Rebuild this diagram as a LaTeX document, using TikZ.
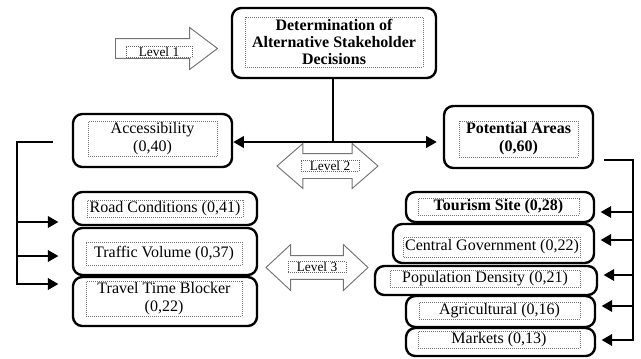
\documentclass[tikz,border=0pt]{standalone}
\usepackage{fontspec}
\setmainfont{Liberation Serif}
\usetikzlibrary{arrows.meta, shapes.arrows, positioning}
\tikzset{> = { Triangle[length = 8pt, width = 8.5pt] }}

\begin{document}
\begin{tikzpicture}[x = 0.75pt, y = -0.75pt,
	box/.style = { draw, line width = 1.8pt, rounded corners = 7pt, inner sep = 0pt },
	frame/.style = { draw = black!55, densely dotted, line width = 0.5pt, inner sep = 1pt, align = center, font = \fontsize{12}{13.5}\selectfont },
	levelarrow/.style = { draw = black!55, fill = white, line width = 0.7pt, inner xsep = 0pt },
	levellabel/.style = { draw = black!60, densely dotted, fill = white, line width = 0.5pt, inner sep = 0.5pt, font = \fontsize{10}{11}\selectfont },
	link/.style = { line width = 2.2pt }]

		\useasboundingbox (0,0) rectangle (641,358);

		% level arrows
		\node [levelarrow, single arrow, anchor = tail, inner ysep = 7.1pt, minimum height = 76.5pt, single arrow head extend = 8.25pt, single arrow tip angle = 74] (lev1) at (115,48.5) {};
		\node [levelarrow, double arrow, inner ysep = 9pt, minimum height = 75.75pt, double arrow head extend = 7.5pt, double arrow tip angle = 82] (lev2) at (327.5,166) {};
		\node [levelarrow, double arrow, inner ysep = 8.6pt, minimum height = 76.5pt, double arrow head extend = 8.25pt, double arrow tip angle = 86] (lev3) at (317,267.5) {};
		\node [levellabel, minimum width = 49.5pt] (lev1t) at (159,51.5) {Level 1};
		\node [levellabel, minimum width = 43.5pt] (lev2t) at (330,165.5) {Level 2};
		\node [levellabel, minimum width = 43.5pt] (lev3t) at (317,267) {Level 3};

		% goal
		\node [box, minimum width = 153pt, minimum height = 52.5pt] (top) at (334,43) {};
		\node [frame, font = \fontsize{12}{13}\selectfont\bfseries, minimum width = 133.5pt, minimum height = 37.5pt] (topt) at (334,42) {Determination of\\Alternative Stakeholder\\Decisions};

		% criteria
		\node [box, minimum width = 119.25pt, minimum height = 39.75pt] (acc) at (152.5,140.5) {};
		\node [frame, minimum width = 96.75pt, minimum height = 25.5pt] (acct) at (152.5,139) {Accessibility\\(0,40)};
		\node [box, minimum width = 111.75pt, minimum height = 46.5pt] (pot) at (518.5,137) {};
		\node [frame, font = \fontsize{12}{13.5}\selectfont\bfseries, minimum width = 89.25pt, minimum height = 27pt] (pott) at (518.5,139) {Potential Areas\\(0,60)};

		% sub-criteria, accessibility
		\node [box, minimum width = 138pt, minimum height = 24.75pt] (road) at (165,208.5) {};
		\node [frame, minimum width = 117pt, minimum height = 12.75pt] (roadt) at (165,208.5) {Road Conditions (0,41)};
		\node [box, minimum width = 138pt, minimum height = 35.25pt] (traffic) at (165,251.5) {};
		\node [frame, minimum width = 117pt, minimum height = 17.25pt] (traffict) at (164,253.5) {Traffic Volume (0,37)};
		\node [box, minimum width = 138pt, minimum height = 36.75pt] (travel) at (165,301.5) {};
		\node [frame, minimum width = 117pt, minimum height = 23.25pt] (travelt) at (164,298.5) {Travel Time Blocker\\(0,22)};

		% sub-criteria, potential areas
		\node [box, minimum width = 141pt, minimum height = 22.5pt] (tourism) at (500,207) {};
		\node [frame, font = \fontsize{12}{13.5}\selectfont\bfseries, minimum width = 120.75pt, minimum height = 11.25pt] (tourismt) at (498.5,206.5) {Tourism Site (0,28)};
		\node [box, minimum width = 150.75pt, minimum height = 29.25pt] (central) at (493.5,243.5) {};
		\node [frame, minimum width = 129pt, minimum height = 15pt] (centralt) at (492,247) {Central Government (0,22)};
		\node [box, minimum width = 166.5pt, minimum height = 21.75pt] (population) at (486,280.5) {};
		\node [frame, minimum width = 142.5pt, minimum height = 12pt] (populationt) at (485,279) {Population Density (0,21)};
		\node [box, minimum width = 141.75pt, minimum height = 23.25pt] (agri) at (500.5,311.5) {};
		\node [frame, minimum width = 120.75pt, minimum height = 11.25pt] (agrit) at (499.5,310.5) {Agricultural (0,16)};
		\node [box, minimum width = 141.75pt, minimum height = 21pt] (markets) at (500.5,342) {};
		\node [frame, minimum width = 121.5pt, minimum height = 11.25pt] (marketst) at (499,339.5) {Markets (0,13)};

		\coordinate (split) at (333,142);
		\coordinate (lbottom) at (17,284);
		\coordinate (rtop) at (633,160);
		\coordinate (rbottom) at (633,340);

		\draw [link] (top.south -| split) -- (split);
		\draw [link, ->] (split) -- (split -| acc.east);
		\draw [link, ->, shorten > = 4.5pt] (split) -- (split -| pot.west);

		\draw [link, ->, shorten > = 10pt] ([xshift = -14pt] split -| acc.west) -| (lbottom) -- (lbottom -| travel.west);
		\foreach \y/\n in {222/road, 256/traffic}
			\draw [link, ->, shorten > = 10pt] (17,\y) -- (\n.west |- 17,\y);

		\draw [link, ->, shorten > = 4pt] ([xshift = 7.5pt] rtop -| pot.east) -| (rbottom) -- (rbottom -| markets.east);
		\foreach \y/\n in {212/tourism, 240/central, 275/population, 306/agri}
			\draw [link, ->, shorten > = 4pt] (633,\y) -- (\n.east |- 633,\y);
	\end{tikzpicture}
\end{document}
